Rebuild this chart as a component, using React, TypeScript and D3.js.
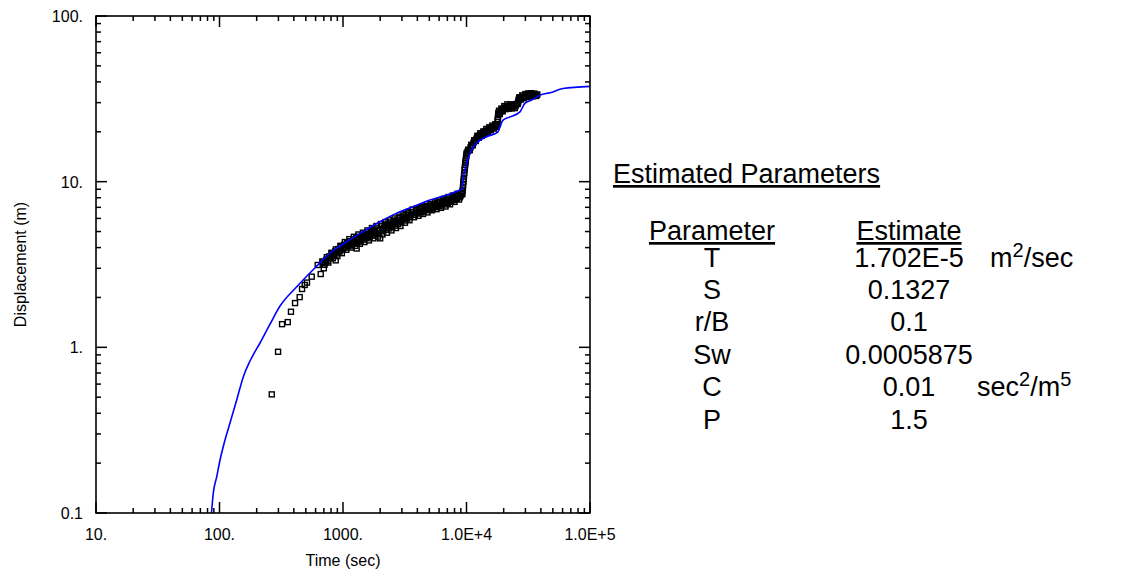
import React from "react";
import * as d3 from "d3";

// ---- Data: observed displacement (squares) ----
const obsTime: number[] = [
  265, 298, 321, 357, 379, 409, 446, 466, 490, 511, 558, 624, 660,
  680, 699, 719, 740, 761, 782,
  805, 828, 851, 873, 875, 900, 926, 952, 979, 1007, 1036, 1065,
  1095, 1126, 1158, 1191, 1225, 1260, 1291, 1296, 1333, 1371, 1410, 1450,
  1491, 1533, 1577, 1622, 1668, 1715, 1764, 1814, 1866, 1919, 1973, 2000,
  2029, 2087, 2146, 2207, 2270, 2334, 2401, 2469, 2539, 2611, 2685,
  2761, 2840, 2920, 3003, 3089, 3176, 3267, 3359, 3455, 3553, 3654,
  3757, 3864, 3974, 4086, 4202, 4322, 4444, 4571, 4700, 4834, 4971,
  5112, 5257, 5407, 5560, 5718, 5880, 6047, 6219, 6395, 6577, 6764,
  6956, 7153, 7357, 7565, 7780, 8001, 8228, 8461, 8702, 8949, 9203,
  9250, 9350, 9450, 9550, 9650, 9750, 9850, 9950,
  10050, 10340, 10630, 10930, 11240, 11560, 11890, 12230, 12580, 12930,
  13300, 13680, 14070, 14470, 14880, 15300, 15730, 16180, 16640, 17110,
  17600, 17800, 18000, 18100, 18610, 19140, 19680, 20240, 20820, 21410,
  22020, 22640, 23280, 23940, 24620, 25320, 26040, 26400, 26780, 27540,
  28320, 29130, 29950, 30800, 31680, 32580, 33500, 34450, 35430, 36440, 37470,
];
const obsDisp: number[] = [
  0.52, 0.94, 1.38, 1.42, 1.64, 1.85, 2.01, 2.25, 2.38, 2.46, 2.67, 3.14, 2.77,
  3.3, 3.0, 3.25, 3.5, 3.25, 3.52,
  3.72, 3.45, 3.68, 3.35, 3.9, 3.55, 3.82, 4.1, 3.7, 3.98, 4.32, 3.88,
  4.16, 4.5, 4.0, 4.3, 4.65, 4.1, 3.95, 4.45, 4.8, 4.22, 4.55, 4.92,
  4.32, 4.7, 5.08, 4.42, 4.82, 5.25, 4.55, 4.98, 5.4, 4.66, 5.1, 4.55,
  5.55, 4.8, 5.25, 5.7, 4.92, 5.4, 5.85, 5.08, 5.55, 6.0, 5.25,
  5.7, 6.15, 5.4, 5.9, 6.35, 5.65, 6.05, 6.55, 5.85, 6.3, 6.78,
  6.1, 6.5, 6.9, 6.22, 6.6, 7.02, 6.38, 6.78, 7.15, 6.52, 6.95,
  7.32, 6.72, 7.05, 7.5, 6.82, 7.25, 7.7, 6.95, 7.45, 7.88, 7.08,
  7.58, 8.08, 7.3, 7.75, 8.25, 7.55, 7.95, 8.45, 7.8, 8.2, 8.6,
  8.4, 9.2, 10.0, 10.9, 11.8, 12.6, 13.4, 14.2,
  14.9, 15.6, 15.5, 16.7, 16.6, 17.8, 17.6, 18.9, 18.4, 19.6,
  18.9, 20.1, 19.5, 20.8, 19.9, 21.3, 20.4, 21.8, 20.9, 22.2,
  21.4, 23.0, 24.5, 26.0, 25.6, 27.6, 26.6, 28.6, 27.4, 29.3,
  27.6, 29.2, 27.7, 29.2, 27.8, 29.4, 29.5, 31.0, 32.3, 31.3,
  33.2, 31.9, 33.8, 32.4, 34.1, 32.7, 34.2, 32.8, 34.0, 32.9, 33.6,
];
// additional interleaved readings in the dense part of the record
const obsTimeB: number[] = [
  690, 709, 730, 750, 771, 793,
  816, 839, 863, 887, 913, 939, 965, 993, 1021, 1050,
  1080, 1110, 1142, 1175, 1208, 1242, 1278, 1314, 1352, 1390, 1430,
  1471, 1512, 1555, 1600, 1645, 1691, 1739, 1789, 1840, 1892, 1946,
  2058, 2116, 2176, 2238, 2302, 2367, 2435, 2504, 2575, 2648, 2722,
  2800, 2880, 2961, 3046, 3132, 3221, 3313, 3407, 3504, 3603,
  3810, 3919, 4030, 4144, 4262, 4383, 4507, 4635, 4767, 4902, 5040,
  5184, 5331, 5483, 5638, 5798, 5963, 6132, 6306, 6485, 6669, 6859,
  7054, 7254, 7460, 7671, 7890, 8114, 8344, 8580, 8824, 9075,
  9300, 9400, 9500, 9600, 9700, 9800, 9900, 10000,
  10195, 10485, 10780, 11085, 11400, 11725, 12060, 12405, 12755, 13115,
  13490, 13875, 14270, 14675, 15090, 15515, 15955, 16410, 16875, 17355,
  17700, 17900, 18050, 18350, 18870, 19410, 19960, 20530, 21110, 21715,
  22330, 22960, 23610, 24280, 24970, 25680, 26220, 26590, 27160, 27930,
  28720, 29540, 30370, 31240, 32130, 33040, 33970, 34940, 35930, 36950,
];
const obsDispB: number[] = [
  3.25, 3.15, 3.37, 3.31, 3.53, 3.48,
  3.67, 3.59, 3.79, 3.69, 3.92, 3.79, 4.04, 3.9, 4.16, 4.0,
  4.28, 4.08, 4.37, 4.16, 4.47, 4.23, 4.56, 4.31, 4.65, 4.39, 4.74,
  4.47, 4.84, 4.55, 4.94, 4.64, 5.04, 4.72, 5.13, 4.8, 5.23, 4.88,
  5.38, 5.02, 5.48, 5.12, 5.58, 5.22, 5.68, 5.33, 5.77, 5.43, 5.87,
  5.55, 6.02, 5.69, 6.15, 5.83, 6.29, 5.98, 6.43, 6.12, 6.57,
  6.31, 6.72, 6.42, 6.82, 6.51, 6.91, 6.61, 7.0, 6.72, 7.09, 6.81,
  7.19, 6.91, 7.31, 7.01, 7.43, 7.1, 7.54, 7.2, 7.66, 7.29, 7.78,
  7.42, 7.91, 7.57, 8.04, 7.74, 8.16, 7.89, 8.3, 8.05, 8.42,
  8.8, 9.6, 10.4, 11.3, 12.2, 13.0, 13.8, 14.6,
  15.2, 15.5, 16.1, 16.6, 17.2, 17.7, 18.2, 18.6, 19.0, 19.2,
  19.5, 19.8, 20.1, 20.3, 20.6, 20.8, 21.1, 21.3, 21.5, 21.8,
  22.2, 23.8, 25.3, 26.8, 26.6, 27.1, 27.6, 28.0, 28.3, 28.5,
  28.4, 28.5, 28.5, 28.5, 28.6, 29.4, 30.2, 31.6, 31.8, 32.2,
  32.5, 32.8, 33.1, 33.2, 33.4, 33.5, 33.5, 33.4, 33.5, 33.3,
];

// ---- Data: fitted type curve (blue line) ----
const fitTime: number[] = [
  86.1, 89.1, 95, 101, 110.8, 121.6, 137.8, 156, 176.6, 212.8, 256.4, 309, 422,
  612, 785, 1072, 1452, 1994, 2722, 3689, 5060, 6918, 8856, 9197, 9456, 10040,
  10670, 12090, 14580, 17990, 18670, 19750, 22500, 27100, 29780, 33730, 39360,
  47450, 60400, 100000,
];
const fitDisp: number[] = [
  0.1, 0.132, 0.166, 0.209, 0.276, 0.349, 0.481, 0.665, 0.827, 1.062, 1.38, 1.775, 2.32,
  3.09, 3.71, 4.34, 4.99, 5.73, 6.46, 7.06, 7.74, 8.3, 8.9, 9.02, 10.66, 12.95,
  14.89, 17.1, 18.66, 20.0, 21.4, 23.5, 24.6, 26.4, 29.8, 31.1, 33.3,
  34.4, 36.5, 37.6,
];

const xTickValues: number[] = [10, 100, 1000, 10000, 100000];
const xTickLabels: string[] = ["10.", "100.", "1000.", "1.0E+4", "1.0E+5"];
const yTickValues: number[] = [0.1, 1, 10, 100];
const yTickLabels: string[] = ["0.1", "1.", "10.", "100."];

const xTitle = "Time (sec)";
const yTitle = "Displacement (m)";

const panelTitle = "Estimated Parameters";
const colHeaders: string[] = ["Parameter", "Estimate"];
const paramNames: string[] = ["T", "S", "r/B", "Sw", "C", "P"];
const paramEstimates: string[] = ["1.702E-5", "0.1327", "0.1", "0.0005875", "0.01", "1.5"];
const unitBase: string[] = ["m", "", "", "", "sec", ""];
const unitSup: string[] = ["2", "", "", "", "2", ""];
const unitRest: string[] = ["/sec", "", "", "", "/m", ""];
const unitSup2: string[] = ["", "", "", "", "5", ""];

// ---- Layout ----
const W = 1133;
const H = 574;
const L = 96, R = 590, T = 16, B = 513;
const FONT = "'Liberation Sans', Arial, sans-serif";

export default function App() {
  const x = d3.scaleLog().domain([10, 100000]).range([L, R]);
  const y = d3.scaleLog().domain([0.1, 100]).range([B, T]);

  const minorX: number[] = [];
  for (let e = 1; e < 5; e++) for (let k = 2; k <= 9; k++) minorX.push(k * Math.pow(10, e));
  const minorY: number[] = [];
  for (let e = -1; e < 2; e++) for (let k = 2; k <= 9; k++) minorY.push(k * Math.pow(10, e));

  const line = d3
    .line<number>()
    .x((_, i) => x(fitTime[i]))
    .y((_, i) => y(fitDisp[i]))
    .curve(d3.curveMonotoneX);

  const allT = obsTime.concat(obsTimeB);
  const allD = obsDisp.concat(obsDispB);

  const sq = 5;
  const rowY0 = 266.5;
  const rowDY = 32.4;
  const col1 = 712;
  const col2 = 909;
  const unitX = [990, 0, 0, 0, 977, 0];

  return (
    <svg
      width={W}
      height={H}
      style={{ position: "absolute", left: 0, top: 0, background: "#fff" }}
      fontFamily={FONT}
    >
      <defs>
        <clipPath id="plotclip">
          <rect x={L} y={T} width={R - L} height={B - T} />
        </clipPath>
      </defs>

      {/* observations */}
      <g clipPath="url(#plotclip)">
        {allT.map((t, i) => (
          <rect
            key={i}
            x={x(t) - sq / 2}
            y={y(allD[i]) - sq / 2}
            width={sq}
            height={sq}
            fill="none"
            stroke="#000"
            strokeWidth={1.4}
          />
        ))}
        <path d={line(fitTime) || ""} fill="none" stroke="#0000ff" strokeWidth={1.6} />
      </g>

      {/* frame */}
      <rect x={L} y={T} width={R - L} height={B - T} fill="none" stroke="#000" strokeWidth={1.6} />

      {/* x ticks */}
      {xTickValues.map((v) => (
        <g key={"xm" + v}>
          <line x1={x(v)} x2={x(v)} y1={B} y2={B - 11} stroke="#000" strokeWidth={1.5} />
          <line x1={x(v)} x2={x(v)} y1={T} y2={T + 11} stroke="#000" strokeWidth={1.5} />
        </g>
      ))}
      {minorX.map((v) => (
        <g key={"xn" + v}>
          <line x1={x(v)} x2={x(v)} y1={B} y2={B - 5} stroke="#000" strokeWidth={1.5} />
          <line x1={x(v)} x2={x(v)} y1={T} y2={T + 5} stroke="#000" strokeWidth={1.5} />
        </g>
      ))}
      {/* y ticks */}
      {yTickValues.map((v) => (
        <g key={"ym" + v}>
          <line x1={L} x2={L + 11} y1={y(v)} y2={y(v)} stroke="#000" strokeWidth={1.5} />
          <line x1={R} x2={R - 11} y1={y(v)} y2={y(v)} stroke="#000" strokeWidth={1.5} />
        </g>
      ))}
      {minorY.map((v) => (
        <g key={"yn" + v}>
          <line x1={L} x2={L + 5} y1={y(v)} y2={y(v)} stroke="#000" strokeWidth={1.5} />
          <line x1={R} x2={R - 5} y1={y(v)} y2={y(v)} stroke="#000" strokeWidth={1.5} />
        </g>
      ))}

      {/* tick labels */}
      {xTickValues.map((v, i) => (
        <text key={"xl" + v} x={x(v)} y={540} fontSize={16} textAnchor="middle" fill="#000">
          {xTickLabels[i]}
        </text>
      ))}
      {yTickValues.map((v, i) => (
        <text key={"yl" + v} x={83} y={y(v) + 6} fontSize={16} textAnchor="end" fill="#000">
          {yTickLabels[i]}
        </text>
      ))}

      {/* axis titles */}
      <text x={(L + R) / 2} y={566} fontSize={16} textAnchor="middle" fill="#000">
        {xTitle}
      </text>
      <text
        transform={`translate(26, ${(T + B) / 2}) rotate(-90)`}
        fontSize={16}
        textAnchor="middle"
        fill="#000"
      >
        {yTitle}
      </text>

      {/* parameter panel */}
      <text x={613} y={183} fontSize={27} fill="#000" textDecoration="underline">
        {panelTitle}
      </text>
      <text x={col1} y={240} fontSize={27} textAnchor="middle" fill="#000" textDecoration="underline">
        {colHeaders[0]}
      </text>
      <text x={col2} y={240} fontSize={27} textAnchor="middle" fill="#000" textDecoration="underline">
        {colHeaders[1]}
      </text>
      {paramNames.map((p, i) => (
        <g key={"p" + i}>
          <text x={col1} y={rowY0 + i * rowDY} fontSize={27} textAnchor="middle" fill="#000">
            {p}
          </text>
          <text x={col2} y={rowY0 + i * rowDY} fontSize={27} textAnchor="middle" fill="#000">
            {paramEstimates[i]}
          </text>
          {unitBase[i] !== "" && (
            <text x={unitX[i]} y={rowY0 + i * rowDY} fontSize={27} fill="#000">
              <tspan>{unitBase[i]}</tspan>
              <tspan fontSize={20} dy={-10}>
                {unitSup[i]}
              </tspan>
              <tspan dy={10}>{unitRest[i]}</tspan>
              {unitSup2[i] !== "" && (
                <tspan fontSize={20} dy={-10}>
                  {unitSup2[i]}
                </tspan>
              )}
            </text>
          )}
        </g>
      ))}
    </svg>
  );
}
